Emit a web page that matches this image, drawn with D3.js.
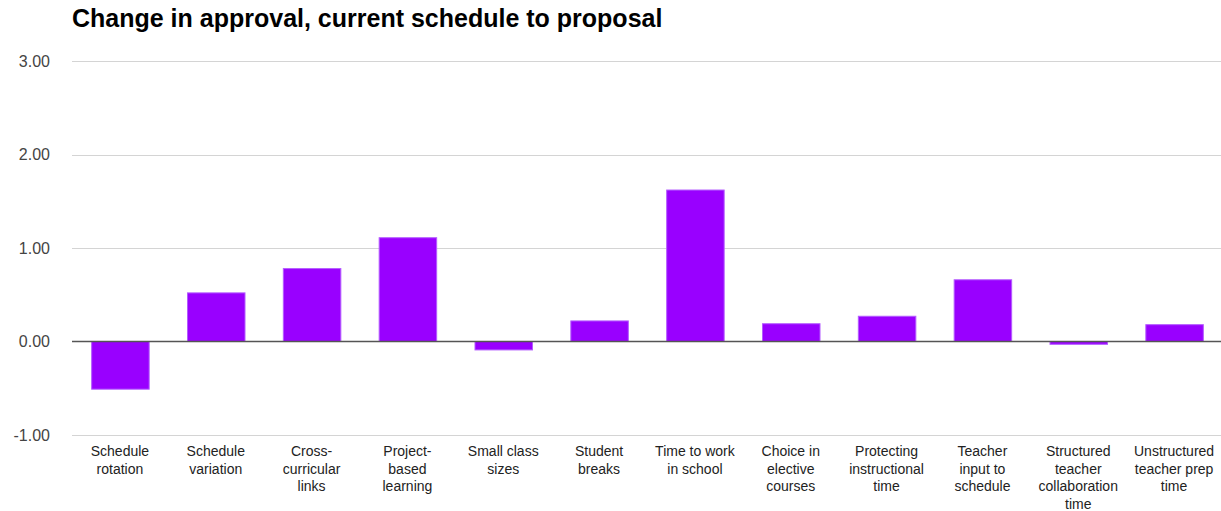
<!DOCTYPE html>
<html>
<head>
<meta charset="utf-8">
<script src="https://cdn.jsdelivr.net/npm/d3@7"></script>
<style>
  body { margin: 0; background: #fff; }
  svg { font-family: Arial, "Liberation Sans", sans-serif; }
</style>
</head>
<body>
<div class="chart"></div>
<script>
const categories = [
  ["Schedule", "rotation"],
  ["Schedule", "variation"],
  ["Cross-", "curricular", "links"],
  ["Project-", "based", "learning"],
  ["Small class", "sizes"],
  ["Student", "breaks"],
  ["Time to work", "in school"],
  ["Choice in", "elective", "courses"],
  ["Protecting", "instructional", "time"],
  ["Teacher", "input to", "schedule"],
  ["Structured", "teacher", "collaboration", "time"],
  ["Unstructured", "teacher prep", "time"]
];
const values = [-0.51, 0.52, 0.78, 1.11, -0.09, 0.22, 1.62, 0.19, 0.27, 0.66, -0.03, 0.18];
const yTicks = [-1, 0, 1, 2, 3];
const title = "Change in approval, current schedule to proposal";

const width = 1221, height = 511;
const margin = {top: 61, right: 0, bottom: 76, left: 72};

const svg = d3.select(".chart")
  .append("svg")
    .attr("width", width)
    .attr("height", height);

const x = d3.scaleBand()
  .domain(d3.range(categories.length))
  .range([margin.left, 1222])
  .paddingInner(0.4)
  .paddingOuter(0.2);

const y = d3.scaleLinear()
  .domain([-1, 3])
  .range([height - margin.bottom, margin.top]);

svg.append("text")
  .attr("x", 72)
  .attr("y", 27)
  .attr("font-size", 25)
  .attr("font-weight", "bold")
  .attr("fill", "#000")
  .text(title);

// gridlines
svg.append("g")
  .selectAll("line")
  .data(yTicks.filter(d => d !== 0))
  .join("line")
    .attr("x1", margin.left)
    .attr("x2", 1221)
    .attr("y1", d => Math.round(y(d)) + 0.5)
    .attr("y2", d => Math.round(y(d)) + 0.5)
    .attr("stroke", "#d4d4d4");

const fmt = d => d.toFixed(2);

const yAxis = g => g
  .attr("transform", `translate(${margin.left - 19}, 0)`)
  .call(d3.axisLeft(y).tickValues(yTicks).tickFormat(fmt).tickSize(0))
  .call(g => g.select(".domain").remove())
  .call(g => g.selectAll("text")
    .attr("font-size", 16)
    .attr("fill", "#444")
    .attr("font-family", "Arial, 'Liberation Sans', sans-serif"));

svg.append("g").call(yAxis);

svg.append("g")
  .selectAll("rect")
  .data(values)
  .join("rect")
    .attr("fill", "#9900ff")
    .attr("stroke", "#b45cff")
    .attr("stroke-width", 1)
    .attr("x", (d, i) => x(i) + 0.5)
    .attr("y", d => y(Math.max(0, d)))
    .attr("height", d => Math.abs(y(d) - y(0)))
    .attr("width", x.bandwidth());

// zero baseline
svg.append("line")
  .attr("x1", margin.left)
  .attr("x2", 1221)
  .attr("y1", y(0))
  .attr("y2", y(0))
  .attr("stroke", "#555")
  .attr("stroke-width", 1.5);

// category labels
const labels = svg.append("g")
  .selectAll("text")
  .data(categories)
  .join("text")
    .attr("x", (d, i) => x(i) + x.bandwidth() / 2)
    .attr("y", 456)
    .attr("text-anchor", "middle")
    .attr("font-size", 14)
    .attr("fill", "#222");

labels.selectAll("tspan")
  .data(d => d)
  .join("tspan")
    .attr("x", function() { return this.parentNode.getAttribute("x"); })
    .attr("dy", (d, i) => i === 0 ? 0 : 17.5)
    .text(d => d);
</script>
</body>
</html>
